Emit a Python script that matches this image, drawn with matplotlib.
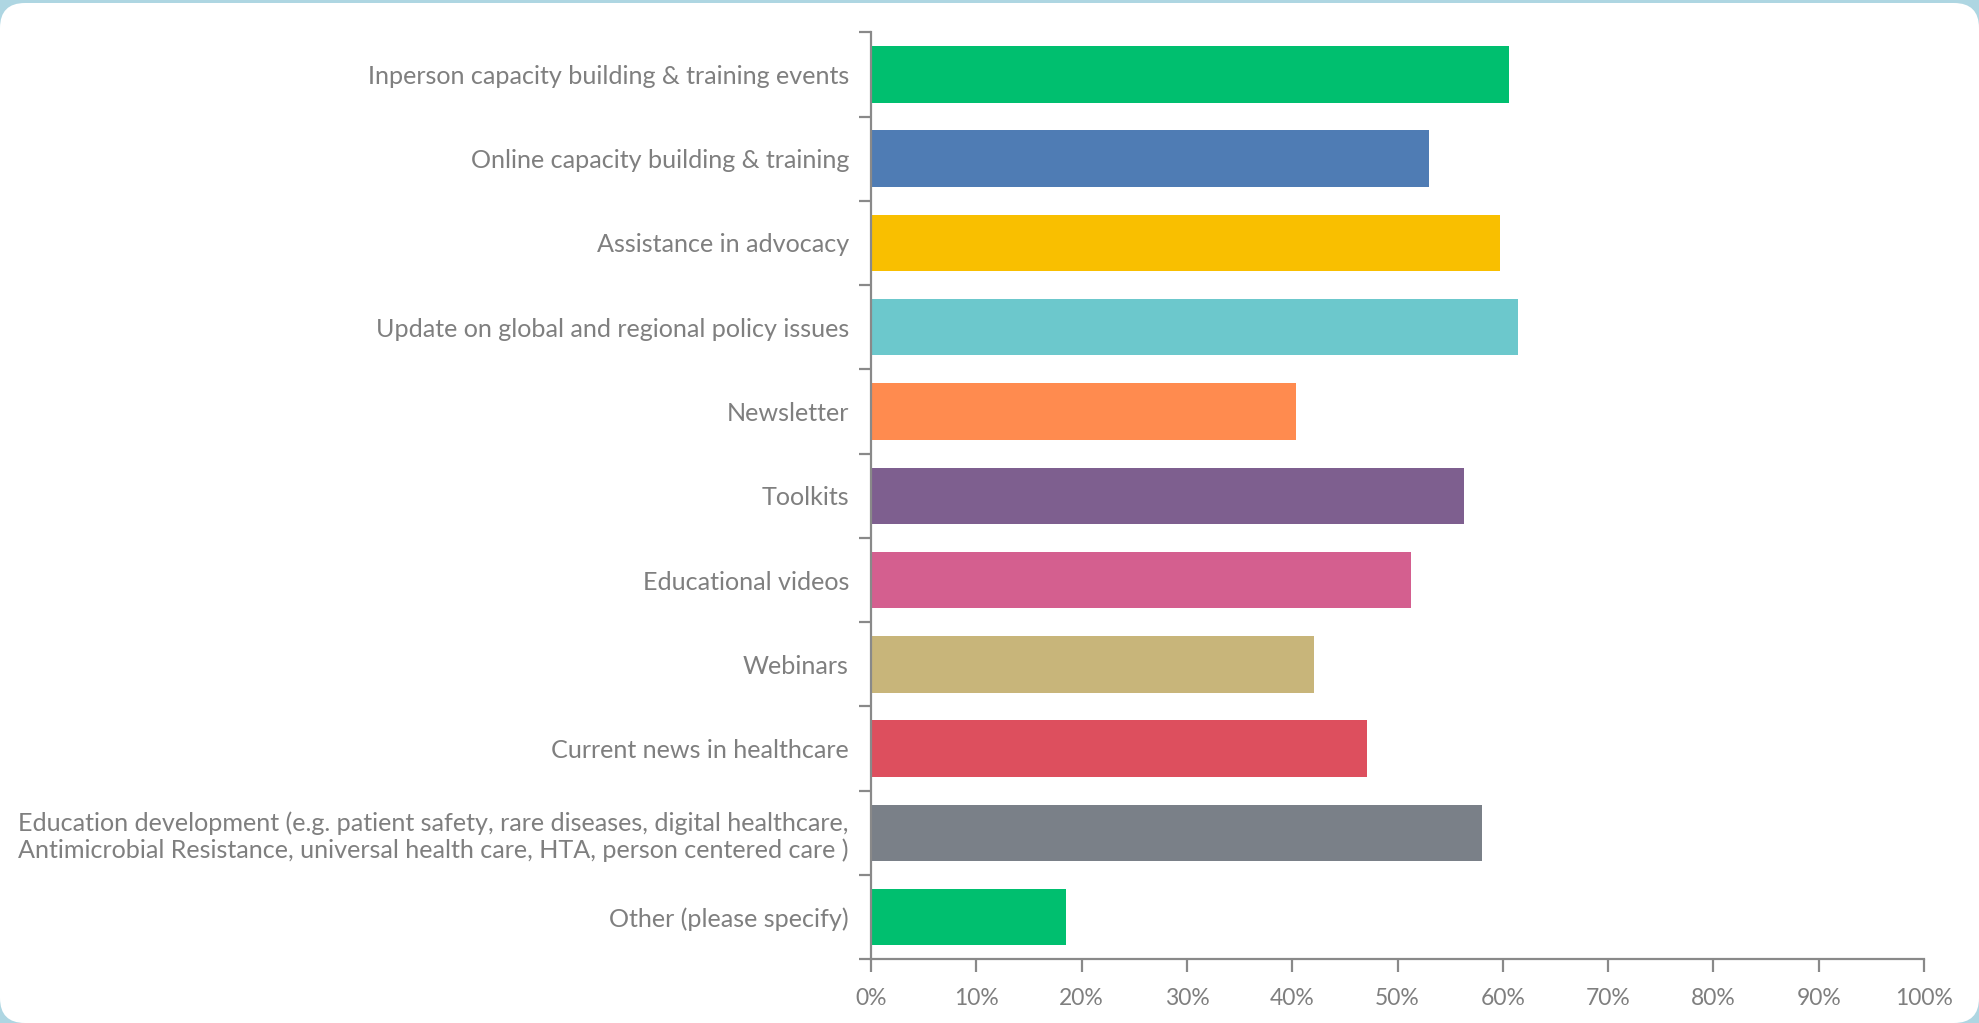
"""Horizontal bar chart of preferred support services, on a rounded card."""

import matplotlib

matplotlib.use("Agg")

import matplotlib.pyplot as plt
import numpy as np
from matplotlib.patches import FancyBboxPatch
from matplotlib.ticker import FixedLocator, PercentFormatter

CATEGORIES = [
    "Inperson capacity building & training events",
    "Online capacity building & training",
    "Assistance in advocacy",
    "Update on global and regional policy issues",
    "Newsletter",
    "Toolkits",
    "Educational videos",
    "Webinars",
    "Current news in healthcare",
    "Education development (e.g. patient safety, rare diseases, digital healthcare,\n"
    "Antimicrobial Resistance, universal health care, HTA, person centered care )",
    "Other (please specify)",
]

SHARES = [0.606, 0.530, 0.597, 0.614, 0.404, 0.563, 0.513, 0.421, 0.471, 0.580, 0.185]

BAR_COLORS = [
    "#00bf6f",
    "#4f7cb4",
    "#f9bf00",
    "#6cc8cc",
    "#ff8b4f",
    "#7e5f8f",
    "#d45f8f",
    "#c8b57a",
    "#dd4f5e",
    "#7a8088",
    "#00bf6f",
]

TEXT_GREY = "#7f7f7f"
AXIS_GREY = "#898989"
FONT = ["Lato", "DejaVu Sans"]

fig = plt.figure(figsize=(19.79, 10.23), dpi=100, facecolor="#aed6e2")

# white card with rounded corners, drawn in inches so the corners stay round
card = FancyBboxPatch(
    (0.0, 0.0),
    19.79,
    10.20,
    boxstyle="round,pad=0,rounding_size=0.25",
    transform=fig.dpi_scale_trans,
    facecolor="white",
    edgecolor="none",
    zorder=-5,
)
fig.patches.append(card)

ax = fig.add_axes([0.4402, 0.0623, 0.5320, 0.9061])
ax.set_facecolor("none")
ax.set_zorder(2)

positions = np.arange(len(CATEGORIES))
ax.barh(positions, SHARES, height=0.67, color=BAR_COLORS, zorder=2)

ax.set_xlim(0, 1)
ax.set_ylim(len(CATEGORIES) - 0.5, -0.5)

ax.xaxis.set_major_formatter(PercentFormatter(1.0, decimals=0))
ax.set_xticks(np.linspace(0, 1, 11))

ax.set_yticks(positions)
ax.set_yticklabels(CATEGORIES, fontfamily=FONT)
ax.yaxis.set_minor_locator(FixedLocator(np.arange(-0.5, len(CATEGORIES), 1.0)))

for label in ax.get_xticklabels():
    label.set_fontfamily(FONT)

ax.tick_params(
    axis="x",
    which="major",
    direction="out",
    length=9,
    width=1.6,
    color=AXIS_GREY,
    labelcolor=TEXT_GREY,
    labelsize=16.5,
    pad=12,
)
ax.tick_params(axis="y", which="major", length=0, labelcolor=TEXT_GREY, labelsize=18.1, pad=16)
ax.tick_params(axis="y", which="minor", direction="out", length=9, width=1.6, color=AXIS_GREY)

for side in ("top", "right"):
    ax.spines[side].set_visible(False)
for side in ("left", "bottom"):
    ax.spines[side].set_color(AXIS_GREY)
    ax.spines[side].set_linewidth(1.6)

for label in ax.get_yticklabels():
    label.set_multialignment("right")
    label.set_linespacing(1.2)

fig.savefig("out.png", dpi=100, facecolor=fig.get_facecolor())
